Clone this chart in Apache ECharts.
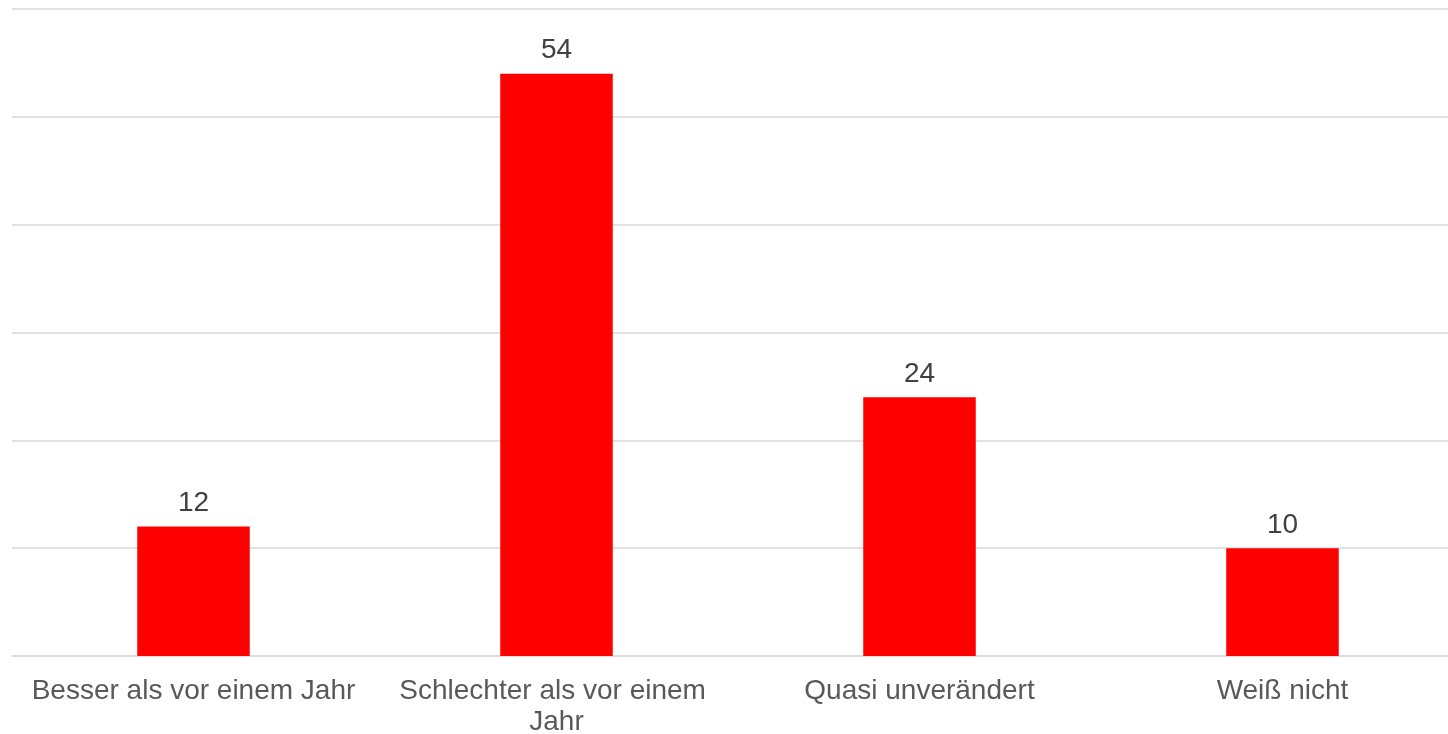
<!DOCTYPE html>
<html>
<head>
<meta charset="utf-8">
<style>
  html, body { margin: 0; padding: 0; background: #fff; }
  #chart { width: 1448px; height: 734px; }
</style>
<script src="https://cdn.jsdelivr.net/npm/echarts@6/dist/echarts.min.js"></script>
</head>
<body>
<div id="chart"></div>
<script>
var categories = ["Besser als vor einem Jahr", "Schlechter als vor einem Jahr", "Quasi unverändert", "Weiß nicht"];
var values = [12, 54, 24, 10];

var chart = echarts.init(document.getElementById("chart"));
var option = {
  animation: false,
  grid: { left: 12, top: 9, width: 1452, bottom: 78, containLabel: false, outerBoundsMode: "none" },
  xAxis: {
    type: "category",
    data: categories,
    axisTick: { show: false },
    axisLine: { show: true, lineStyle: { color: "#d9d9d9", width: 1.5 } },
    axisLabel: {
      color: "#595959",
      fontFamily: "Liberation Sans, Arial, sans-serif",
      fontSize: 28,
      margin: 20,
      lineHeight: 31,
      width: 340,
      overflow: "break",
      interval: 0
    }
  },
  yAxis: {
    type: "value",
    min: 0,
    max: 60,
    interval: 10,
    axisLabel: { show: false },
    axisLine: { show: false },
    axisTick: { show: false },
    splitLine: { lineStyle: { color: "#d9d9d9", width: 1.5 } }
  },
  series: [{
    type: "bar",
    data: values,
    barWidth: "31%",
    itemStyle: { color: "#ff0000" },
    label: {
      show: true,
      position: "top",
      distance: 9,
      color: "#404040",
      fontFamily: "Liberation Sans, Arial, sans-serif",
      fontSize: 28
    }
  }]
};
chart.setOption(option);
</script>
</body>
</html>
